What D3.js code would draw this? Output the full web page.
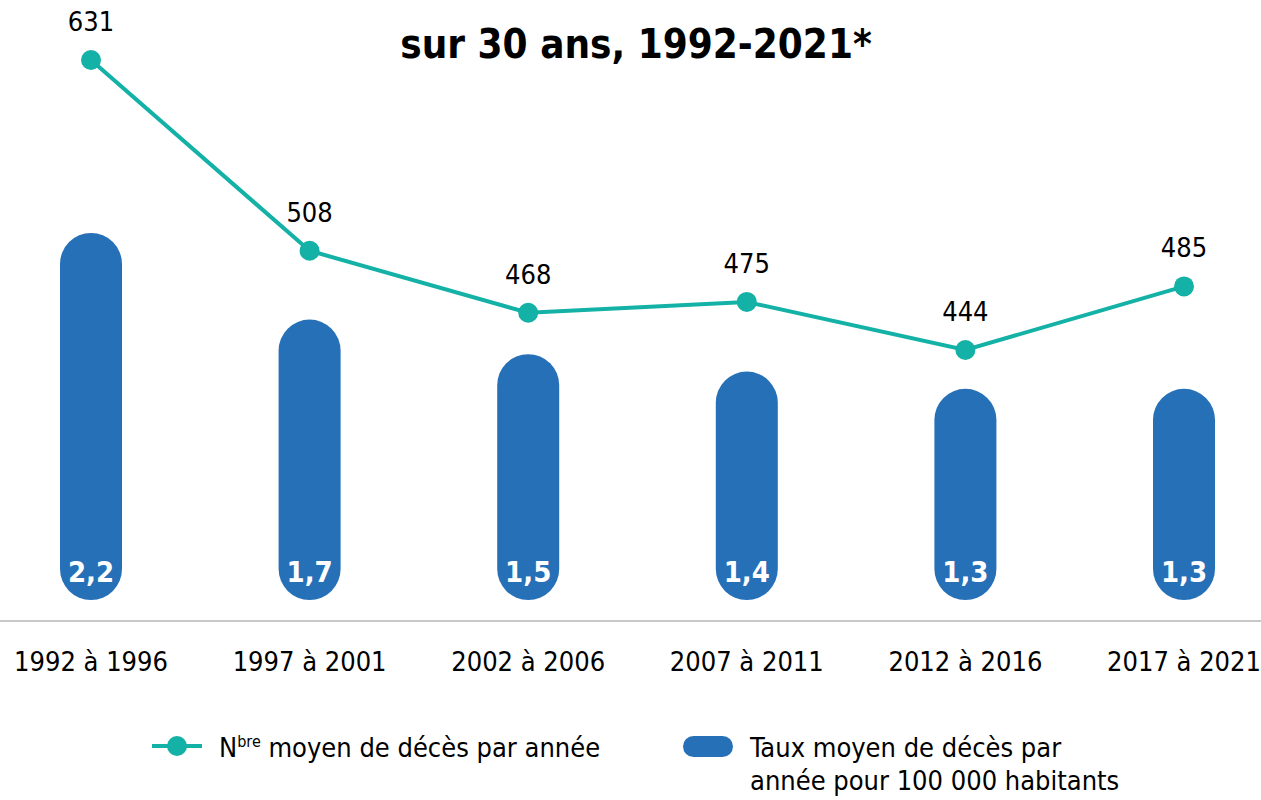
<!DOCTYPE html>
<html>
<head>
<meta charset="utf-8">
<script src="https://cdn.jsdelivr.net/npm/d3@7"></script>
<style>
  body { margin: 0; background: #fff; }
  svg { display: block; font-family: "Liberation Sans Narrow", "DejaVu Sans Condensed", sans-serif; }
</style>
</head>
<body>
<div id="chart"></div>
<script>
'use strict';

// Data
var periods = ['1992 à 1996', '1997 à 2001', '2002 à 2006', '2007 à 2011', '2012 à 2016', '2017 à 2021'];
var rates = [2.2, 1.7, 1.5, 1.4, 1.3, 1.3];          // taux pour 100 000 habitants
var deaths = [631, 508, 468, 475, 444, 485];         // nombre moyen de décès
var titleText = 'sur 30 ans, 1992-2021*';

var width = 1261, height = 800;
var blue = '#2670b8', teal = '#14b1a6';

var svg = d3.select('#chart').append('svg')
  .attr('width', width)
  .attr('height', height);

// Scales
var x = d3.scalePoint().domain(periods).range([91, 1184]);
var yBar = d3.scaleLinear().domain([0, 2.2]).range([614, 233]);
var yLine = d3.scaleLinear().domain([444, 631]).range([350, 60]);

var barW = 62, barBottom = yBar(0) - 14;

// Title
svg.append('text')
  .attr('x', 636).attr('y', 58)
  .attr('text-anchor', 'middle')
  .attr('font-size', 40).attr('font-weight', 'bold')
  .text(titleText);

// Bars (pill shapes)
var bars = svg.selectAll('.bar').data(rates).enter().append('g').attr('class', 'bar');
bars.append('rect')
  .attr('x', function(d, i) { return x(periods[i]) - barW / 2; })
  .attr('y', function(d) { return yBar(d); })
  .attr('width', barW)
  .attr('height', function(d) { return barBottom - yBar(d); })
  .attr('rx', barW / 2).attr('ry', barW / 2)
  .attr('fill', blue);
bars.append('text')
  .attr('x', function(d, i) { return x(periods[i]); })
  .attr('y', 582)
  .attr('text-anchor', 'middle')
  .attr('fill', '#fff')
  .attr('font-size', 29).attr('font-weight', 'bold')
  .text(function(d) { return String(d).replace('.', ','); });

// Axis line
svg.append('line')
  .attr('x1', 0).attr('x2', width)
  .attr('y1', 621).attr('y2', 621)
  .attr('stroke', '#c8c8c8').attr('stroke-width', 2);

// Category labels
svg.selectAll('.cat').data(periods).enter().append('text')
  .attr('class', 'cat')
  .attr('x', x)
  .attr('y', 671)
  .attr('text-anchor', 'middle')
  .attr('font-size', 27)
  .text(function(d) { return d; });

// Line
var line = d3.line()
  .x(function(d, i) { return x(periods[i]); })
  .y(function(d) { return yLine(d); });
svg.append('path')
  .datum(deaths)
  .attr('d', line)
  .attr('fill', 'none')
  .attr('stroke', teal).attr('stroke-width', 4);
svg.selectAll('.dot').data(deaths).enter().append('circle')
  .attr('cx', function(d, i) { return x(periods[i]); })
  .attr('cy', function(d) { return yLine(d); })
  .attr('r', 10)
  .attr('fill', teal);
svg.selectAll('.lbl').data(deaths).enter().append('text')
  .attr('x', function(d, i) { return x(periods[i]); })
  .attr('y', function(d) { return yLine(d) - 29; })
  .attr('text-anchor', 'middle')
  .attr('font-size', 27)
  .text(function(d) { return d; });

// Legend
var lg = svg.append('g');
lg.append('line').attr('x1', 152).attr('x2', 202).attr('y1', 746).attr('y2', 746)
  .attr('stroke', teal).attr('stroke-width', 4);
lg.append('circle').attr('cx', 177).attr('cy', 746).attr('r', 10).attr('fill', teal);
var t1 = lg.append('text').attr('x', 219).attr('y', 757).attr('font-size', 27);
t1.append('tspan').text('N');
t1.append('tspan').attr('font-size', 16).attr('dy', -10).text('bre');
t1.append('tspan').attr('dy', 10).text(' moyen de décès par année');

lg.append('rect').attr('x', 683).attr('y', 736).attr('width', 50).attr('height', 21)
  .attr('rx', 10.5).attr('fill', blue);
var t2 = lg.append('text').attr('x', 750).attr('font-size', 27);
t2.append('tspan').attr('x', 750).attr('y', 757).text('Taux moyen de décès par');
t2.append('tspan').attr('x', 750).attr('y', 790).text('année pour 100 000 habitants');
</script>
</body>
</html>
